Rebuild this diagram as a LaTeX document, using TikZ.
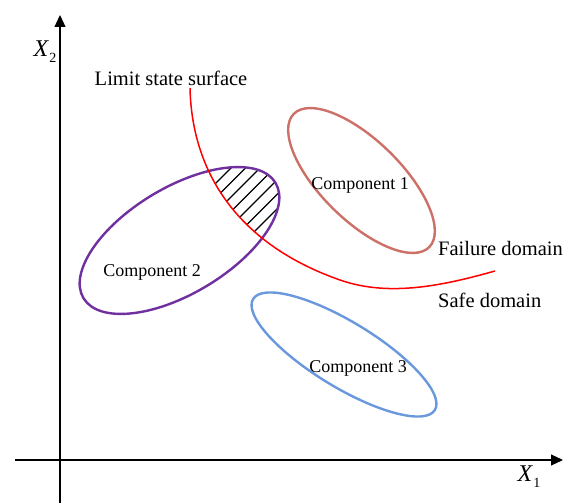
\documentclass[tikz,border=0pt]{standalone}
\usepackage{fontspec}
\setmainfont{Liberation Serif}
\usetikzlibrary{arrows.meta}
\definecolor{cpurple}{RGB}{112,48,160}
\definecolor{cbrown}{RGB}{204,112,104}
\definecolor{cblue}{RGB}{106,152,220}
\begin{document}
\begin{tikzpicture}[x=1pt,y=-1pt,
  axis/.style={line width=1.2pt,-{Triangle[length=12pt,width=11pt]}},
  comp/.style={line width=2.4pt},
  lbl/.style={inner sep=0pt,font=\fontsize{20.5}{22}\selectfont},
  axlbl/.style={inner sep=0pt,font=\fontsize{24}{26}\selectfont},
  clbl/.style={inner sep=0pt,font=\fontsize{18}{20}\selectfont},
  hatch/.style={line width=1.2pt,black}]
\useasboundingbox (0,0) rectangle (563,503);
% axes
\coordinate (yb) at (60,503);
\coordinate (yt) at (60,15);
\coordinate (xl) at (15,460);
\coordinate (xr) at (563,460);
\draw[axis] (yb) -- (yt);
\draw[axis] (xl) -- (xr);
\node[axlbl] (x2) at (45,52) {\textit{X}\kern0.5pt\raisebox{-6pt}{\fontsize{14}{14}\selectfont 2}};
\node[axlbl] (x1) at (529,477) {\textit{X}\kern0.5pt\raisebox{-6pt}{\fontsize{14}{14}\selectfont 1}};
% hatch
\begin{scope}
  \clip[rotate around={31:(179.5,240.5)}] (179.5,240.5) ellipse [x radius=112, y radius=53];
  \clip (190,88) .. controls (192,175) and (240,245) .. (340,280) .. controls (390,297.5) and (445,285) .. (495,271) -- (563,271) -- (563,0) -- (190,0) -- cycle;
  \foreach \s in {399,413.5,...,505} {
    \draw[hatch] (\s-100,100) -- (\s-350,350);
  }
\end{scope}
% ellipses
\draw[comp,cpurple,rotate around={31:(179.5,240.5)}] (179.5,240.5) ellipse [x radius=112, y radius=53];
\draw[comp,cbrown,rotate around={-44.5:(361.5,180.5)}] (361.5,180.5) ellipse [x radius=95, y radius=40];
\draw[comp,cblue,rotate around={-31.4:(344,354.5)}] (344,354.5) ellipse [x radius=106.5, y radius=32.5];
% limit state curve
\coordinate (cs) at (190,88);
\coordinate (cm) at (340,280);
\coordinate (ce) at (495,271);
\draw[red,line width=1.5pt] (cs) .. controls (192,175) and (240,245) .. (cm) .. controls (390,297.5) and (445,285) .. (ce);
% labels
\node[lbl] (lss) at (171,78) {Limit state surface};
\node[lbl,anchor=west] (fd) at (438,248) {Failure domain};
\node[lbl,anchor=west] (sd) at (438,300) {Safe domain};
\node[clbl] (c1) at (360,185) {Component 1};
\node[clbl] (c2) at (152,272) {Component 2};
\node[clbl] (c3) at (358,368) {Component 3};
\end{tikzpicture}
\end{document}
